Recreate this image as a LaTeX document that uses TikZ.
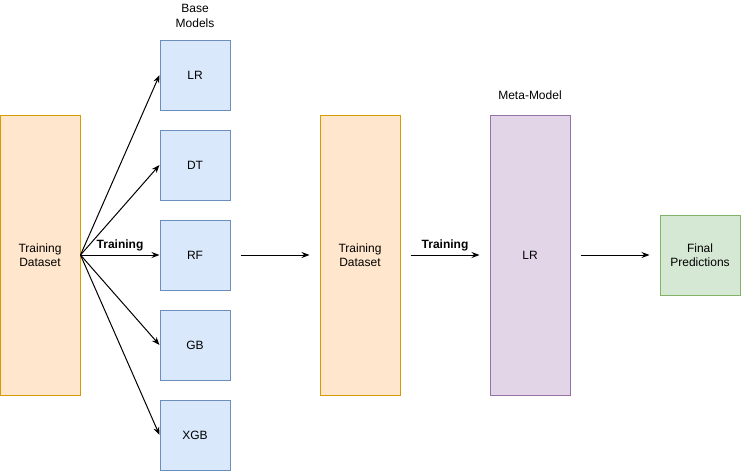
\documentclass[tikz,border=0pt]{standalone}
\usepackage{fontspec}
\setmainfont{Liberation Sans}
\usetikzlibrary{arrows.meta}
\definecolor{datafill}{HTML}{FFE6CC}
\definecolor{dataline}{HTML}{D79B00}
\definecolor{basefill}{HTML}{DAE8FC}
\definecolor{baseline}{HTML}{6C8EBF}
\definecolor{metafill}{HTML}{E1D5E7}
\definecolor{metaline}{HTML}{9673A6}
\definecolor{outfill}{HTML}{D5E8D4}
\definecolor{outline}{HTML}{82B366}
\tikzset{
% Box styles: data, base model, meta model and output
data node/.style={draw=dataline,fill=datafill,minimum width=80pt,minimum height=280pt,inner sep=0,align=center},
base node/.style={draw=baseline,fill=basefill,minimum width=70pt,minimum height=70pt,inner sep=0,align=center},
meta node/.style={draw=metaline,fill=metafill,minimum width=80pt,minimum height=280pt,inner sep=0,align=center},
out node/.style={draw=outline,fill=outfill,minimum width=80pt,minimum height=80pt,inner sep=0,align=center}
}
\begin{document}
\begin{tikzpicture}[x=1pt,y=-1pt,line width=1pt,>={Stealth[length=8pt,width=6pt]},
  font=\fontsize{12}{14.5}\selectfont]
\useasboundingbox (0,0) rectangle (741,471);
\node[data node] (D1) at (40,255) {Training\\Dataset};
\node[base node] (LR) at (195,75) {LR};
\node[base node] (DT) at (195,165) {DT};
\node[base node] (RF) at (195,255) {RF};
\node[base node] (GB) at (195,345) {GB};
\node[base node] (XGB) at (195,435) {XGB};
\node[align=center] (base) at (195,16) {Base\\Models};
\node[data node] (D2) at (360,255) {Training\\Dataset};
\node[meta node] (M) at (530,255) {LR};
\node (meta) at (530,95) {Meta-Model};
\node[out node] (F) at (700,255) {Final\\Predictions};

\path [->] (D1.east) edge (LR.west);
\path [->] (D1.east) edge (DT.west);
\path [->] (D1.east) edge node[above] {\textbf{Training}} (RF.west);
\path [->] (D1.east) edge (GB.west);
\path [->] (D1.east) edge (XGB.west);
\path [->,shorten <=10pt,shorten >=10pt] (RF.east) edge (D2.west);
\path [->,shorten <=10pt,shorten >=10pt] (D2.east) edge node[above] {\textbf{Training}} (M.west);
\path [->,shorten <=10pt,shorten >=10pt] (M.east) edge (F.west);
\end{tikzpicture}
\end{document}
